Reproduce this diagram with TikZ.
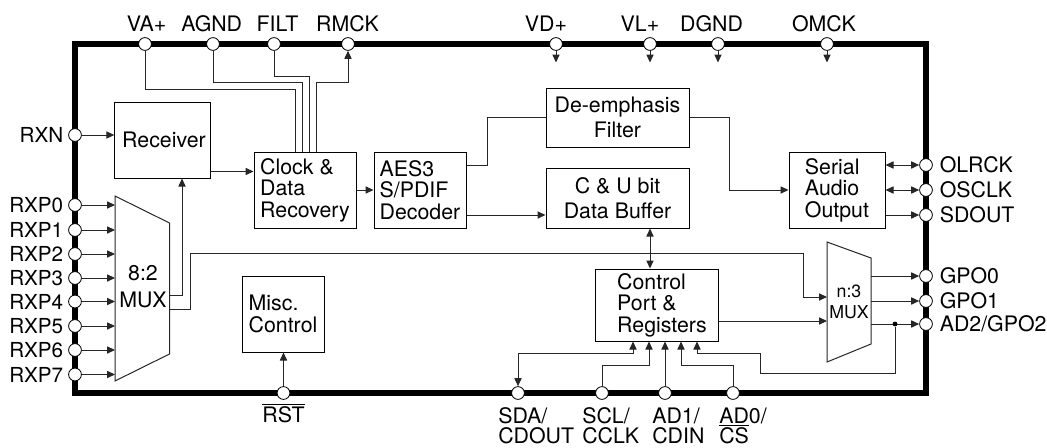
\documentclass[tikz,border=0pt]{standalone}
\usepackage{fontspec}
\setmainfont{TeX Gyre Heros}
\usetikzlibrary{arrows.meta,calc}
\tikzset{
  wire/.style={line width=0.75pt,draw=black!85},
  arr/.style={wire,-{Triangle[length=6pt,width=5.4pt]}},
  both/.style={wire,{Triangle[length=6pt,width=5.4pt]}-{Triangle[length=6pt,width=5.4pt]}},
  pin/.style={circle,draw=black,line width=0.6pt,fill=white,inner sep=0pt,minimum size=9.6pt},
  blk/.style={draw=black,line width=0.75pt,fill=white,inner sep=0pt,align=left,
    font=\fontsize{16}{16.2}\selectfont},
  blkc/.style={blk,align=center,font=\fontsize{16}{19}\selectfont},
  lab/.style={inner sep=0pt,font=\fontsize{16}{15}\selectfont},
  labl/.style={lab,font=\fontsize{15.5}{15}\selectfont},
  dot/.style={circle,fill=black,inner sep=0pt,minimum size=3.6pt},
}
\newcommand{\ovl}[1]{\smash{$\overline{\mbox{#1}}$}}
\begin{document}
\begin{tikzpicture}[x=0.75pt,y=-0.75pt]
\useasboundingbox (0,0) rectangle (1047,447);
% frame
\coordinate (fTL) at (75,44);
\coordinate (fBR) at (926,393);
\draw[line width=3.9pt,miter limit=10] (fTL) rectangle (fBR);
% pins: top
\foreach \n/\x in {VA/145,AGND/213,FILT/274,RMCK/348,VD/556,VL/650,DGND/718,OMCK/827}
  \node[pin] (p\n) at (\x,44) {};
% pins: left
\foreach \n/\y in {RXN/135,RXPa/205,RXPb/230,RXPc/254,RXPd/278,RXPe/301.5,RXPf/326,RXPg/350,RXPh/374.5}
  \node[pin] (p\n) at (75,\y) {};
% pins: right
\foreach \n/\y in {OLRCK/165,OSCLK/190,SDOUT/215,GPOa/276,GPOb/301,ADGPO/324}
  \node[pin] (p\n) at (926,\y) {};
% pins: bottom
\foreach \n/\x in {RST/283.5,SDA/518,SCL/602,ADa/665,ADb/733}
  \node[pin] (p\n) at (\x,393) {};
% blocks
\node[blk,minimum width=71.5pt,minimum height=57pt] (recv) at (162.5,140) {\hspace*{2.25pt}Receiver};
\node[blk,minimum width=76.5pt,minimum height=57pt] (clock) at (305,190) {Clock \&\\Data\\Recovery};
\node[blk,minimum width=69pt,minimum height=57pt] (aes) at (420,190) {AES3\\S/PDIF\\Decoder};
\node[blkc,minimum width=107.25pt,minimum height=44.25pt] (deemph) at (617.5,117.5) {De-emphasis\\Filter};
\node[blkc,minimum width=107.25pt,minimum height=45pt] (cu) at (617.5,198) {C \& U bit\\Data Buffer};
\node[blk,minimum width=72pt,minimum height=57pt] (serial) at (837,190) {Serial\\Audio\\Output};
\node[blk,minimum width=92.25pt,minimum height=54pt] (ctrl) at (656.5,305) {\hspace*{8.25pt}Control\\\hspace*{8.25pt}Port \&\\\hspace*{8.25pt}Registers};
\node[blk,minimum width=61.5pt,minimum height=57pt] (misc) at (283,314) {Misc.\\Control};
% muxes
\coordinate (mAa) at (115,196);
\coordinate (mAb) at (169.5,223);
\coordinate (mAc) at (169.5,354);
\coordinate (mAd) at (115,381);
\draw[wire] (mAa) -- (mAb) -- (mAc) -- (mAd) -- cycle;
\node[inner sep=0pt,align=center,font=\fontsize{16}{20}\selectfont] (muxA) at (143,286.5) {8:2\\MUX};
\coordinate (mBa) at (827,242);
\coordinate (mBb) at (871,258);
\coordinate (mBc) at (871,344);
\coordinate (mBd) at (827,362);
\draw[wire] (mBa) -- (mBb) -- (mBc) -- (mBd) -- cycle;
\node[inner sep=0pt,align=center,font=\fontsize{13.3}{15.8}\selectfont] (muxB) at (849,301.5) {n:3\\MUX};
% left inputs
\draw[arr] (pRXN) -- (recv.west |- pRXN);
\foreach \n in {RXPa,RXPb,RXPc,RXPd,RXPe,RXPf,RXPg,RXPh}
  \draw[arr] (p\n) -- (mAa |- p\n);
% top power/clock wires
\draw[wire] (pVA) |- (295,89) -- (295,0 |- clock.north);
\draw[wire] (pAGND) |- (302,82) -- (302,0 |- clock.north);
\draw[wire] (pFILT) |- (309,76) -- (309,0 |- clock.north);
\draw[arr] (316,0 |- clock.north) -- (316,82) -| (pRMCK);
\foreach \n in {VD,VL,DGND,OMCK}{
  \coordinate (s\n) at ($(p\n)+(0,18.5)$);
  \draw[arr] (p\n) -- (s\n);
}
% internal
\draw[arr] (recv.east |- 0,171.5) -- (clock.west |- 0,171.5);
\draw[arr] (clock.east) -- (aes.west);
\draw[wire] (aes.east |- 0,165) -- (487,165) |- (deemph.west);
\draw[arr] (aes.east |- 0,215) -- (cu.west |- 0,215);
\draw[arr] (deemph.east) -- (729,0 |- deemph.east) |- (serial.west);
\draw[both] (650,0 |- cu.south) -- (650,0 |- ctrl.north);
\draw[arr] (mAb |- 0,295) -- (182,295) -- (182,0 |- recv.south);
\draw[arr] (mAb |- 0,309) -- (190,309) -- (190,253) -- (803,253) |- (mBa |- 0,297);
\draw[arr] (ctrl.east |- 0,321) -- (mBa |- 0,321);
% right outputs
\draw[both] (serial.east |- pOLRCK) -- (pOLRCK);
\draw[both] (serial.east |- pOSCLK) -- (pOSCLK);
\draw[arr] (serial.east |- pSDOUT) -- (pSDOUT);
\draw[arr] (mBb |- pGPOa) -- (pGPOa);
\draw[arr] (mBb |- pGPOb) -- (pGPOb);
\draw[arr] (mBb |- pADGPO) -- (pADGPO);
\node[dot] (jn) at (895,324) {};
\draw[arr] (jn) -- (895,373) -- (760,373) -- (760,353) -- (697,353) -- (697,0 |- ctrl.south);
% reset and control port
\draw[arr] (pRST) -- (misc.south -| pRST);
\draw[both] (pSDA) -- (pSDA |- 0,353) -- (633,353) -- (633,0 |- ctrl.south);
\draw[arr] (pSCL) -- (pSCL |- 0,365) -- (649,365) -- (649,0 |- ctrl.south);
\draw[arr] (pADa) -- (ctrl.south -| pADa);
\draw[arr] (pADb) -- (pADb |- 0,365) -- (681,365) -- (681,0 |- ctrl.south);
% labels: top
\foreach \n/\t/\x in {VA/VA+/146.5,AGND/AGND/211.7,FILT/FILT/277.5,RMCK/RMCK/347.5,VD/VD+/546,VL/VL+/640,DGND/DGND/711.5,OMCK/OMCK/824}
  \node[lab] (l\n) at (\x,24) {\t};
% labels: left
\foreach \n/\t in {RXN/RXN,RXPa/RXP0,RXPb/RXP1,RXPc/RXP2,RXPd/RXP3,RXPe/RXP4,RXPf/RXP5,RXPg/RXP6,RXPh/RXP7}
  \node[labl,anchor=east] (l\n) at ($(p\n)+(-11.5,0)$) {\t};
% labels: right
\foreach \n/\t in {OLRCK/OLRCK,OSCLK/OSCLK,SDOUT/SDOUT,GPOa/GPO0,GPOb/GPO1,ADGPO/AD2\slash GPO2}
  \node[lab,anchor=west] (l\n) at ($(p\n)+(13.5,0)$) {\t};
% labels: bottom
\node[lab] (lRST) at (283.5,413) {$\overline{\mbox{RST}}$};
\node[lab,anchor=north west,align=left] (lSDA) at (498,407.5) {SDA/\\CDOUT};
\node[lab,anchor=north west,align=left] (lSCL) at (582,407.5) {SCL/\\CCLK};
\node[lab,anchor=north west,align=left] (lADa) at (652,407.5) {AD1/\\CDIN};
\node[lab,anchor=north west,align=left] (lADb) at (719,407.5) {AD0/\\\ovl{CS}};
\end{tikzpicture}
\end{document}
